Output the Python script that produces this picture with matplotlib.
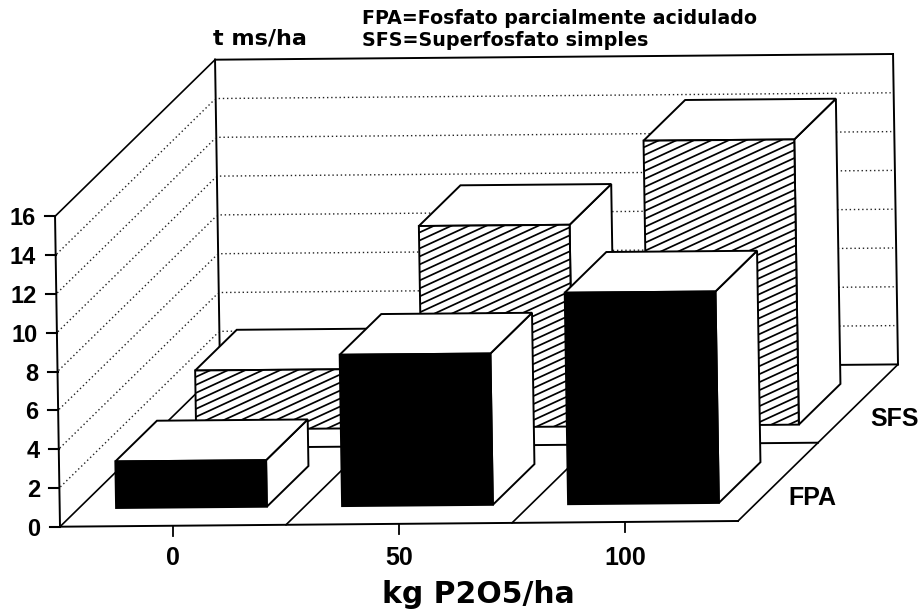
import numpy as np
import matplotlib
matplotlib.use("Agg")
import matplotlib.pyplot as plt
from matplotlib.patches import Polygon
from matplotlib.collections import LineCollection

# ---- data ----
doses = ["0", "50", "100"]
rows = ["FPA", "SFS"]
fpa_values = [2.4, 7.8, 10.9]
sfs_values = [3.05, 10.4, 14.7]
z_ticks = [0, 2, 4, 6, 8, 10, 12, 14, 16]
title_lines = ["FPA=Fosfato parcialmente acidulado", "SFS=Superfosfato simples"]
y_title = "t ms/ha"
x_title = "kg P2O5/ha"

# ---- oblique projection (dose slot, row slot, value) -> figure pixels ----
ORIGIN = np.array([60.0, 526.7])
EX = np.array([226.0, -1.9])
EY = np.array([80.0, -78.3])
EZ = np.array([-0.31, -19.4])
ZMAX = 16
BAR_W, BAR_D = 0.667, 0.52
X0, Y0 = 0.165, 0.235


def P(x, y, z=0.0):
    return ORIGIN + x * EX + y * EY + z * EZ


fig = plt.figure(figsize=(9.23, 6.11), dpi=100, facecolor="white")
ax = fig.add_axes([0, 0, 1, 1])
ax.set_xlim(0, 923)
ax.set_ylim(611, 0)
ax.axis("off")

LW = 1.4
SANS = "Liberation Sans"
WIDE = "DejaVu Sans"


def line(a, b, lw=LW, z=2, **kw):
    ax.plot([a[0], b[0]], [a[1], b[1]], color="black", lw=lw, zorder=z,
            solid_capstyle="projecting", **kw)


# walls and floor
nx, ny = len(doses), len(rows)
for v in z_ticks[1:-1]:
    a, b, c = P(0, 0, v), P(0, ny, v), P(nx, ny, v)
    for s, e in ((a + (1, -1), b - (1, -1)), (b + (3, 0), c - (3, 0))):
        ax.plot([s[0], e[0]], [s[1], e[1]], color="#222222", lw=1.0,
                ls=(0, (1, 2)), zorder=1)
line(P(0, 0), P(0, 0, ZMAX))
line(P(0, 0, ZMAX), P(0, ny, ZMAX), lw=1.2)
line(P(0, ny, ZMAX), P(nx, ny, ZMAX))
line(P(nx, ny, ZMAX), P(nx, ny))
line(P(0, ny), P(0, ny, ZMAX))
line(P(0, 0), P(nx, 0))
line(P(0, 0), P(0, ny), lw=1.2)
line(P(nx, 0), P(nx, ny), lw=1.2)
line(P(0, ny), P(nx, ny))
line(P(0, 1), P(nx, 1))
for i in range(1, nx):
    line(P(i, 0), P(i, ny), lw=1.2)


def hatch(poly, z):
    xs, ys = poly[:, 0], poly[:, 1]
    slope, step = 0.46, 8.0
    span = xs.max() - xs.min()
    offs = np.arange(ys.min(), ys.max() + slope * span + step, step)
    segs = [[(xs.min(), o), (xs.max(), o - slope * span)] for o in offs]
    lc = LineCollection(segs, colors="black", linewidths=1.25, zorder=z)
    ax.add_collection(lc)
    lc.set_clip_path(Polygon(poly, transform=ax.transData))


def bar(i, row, value, z, solid):
    x0, x1 = i + X0, i + X0 + BAR_W
    y0, y1 = row + Y0, row + Y0 + BAR_D
    front = np.array([P(x0, y0), P(x1, y0), P(x1, y0, value), P(x0, y0, value)])
    side = np.array([P(x1, y0), P(x1, y1), P(x1, y1, value), P(x1, y0, value)])
    top = np.array([P(x0, y0, value), P(x1, y0, value), P(x1, y1, value), P(x0, y1, value)])
    for poly in (side, top):
        ax.add_patch(Polygon(poly, closed=True, fc="white", ec="black", lw=LW, zorder=z))
    ax.add_patch(Polygon(front, closed=True, fc="black" if solid else "white",
                         ec="black", lw=LW, zorder=z))
    if not solid:
        hatch(front, z + 0.1)


for i, v in enumerate(sfs_values):
    bar(i, 1, v, 3 + i, False)
for i, v in enumerate(fpa_values):
    bar(i, 0, v, 7 + i, True)

# value axis
for v in z_ticks:
    p = P(0, 0, v)
    line(p, p + (-10, 0), lw=1.5)
    ax.text(p[0] - 19.5, p[1], str(v), ha="right", va="center_baseline",
            fontsize=17, fontweight="bold", family=SANS)

# dose axis
for i, d in enumerate(doses):
    p = P(i + 0.5, 0)
    line(p, p + (0, 10), lw=1.3)
    ax.text(p[0], 565, d, ha="center", va="baseline", fontsize=18,
            fontweight="bold", family=SANS)

ax.text(478, 603, x_title, ha="center", va="baseline", fontsize=21.5,
        fontweight="bold", family=WIDE)
ax.text(788, 505, rows[0], ha="left", va="baseline", fontsize=18, fontweight="bold", family=SANS)
ax.text(870, 426, rows[1], ha="left", va="baseline", fontsize=18, fontweight="bold", family=SANS)
ax.text(213, 45, y_title, ha="left", va="baseline", fontsize=16, fontweight="bold", family=WIDE)
ax.text(362, 24, title_lines[0], ha="left", va="baseline", fontsize=13.7, fontweight="bold", family=WIDE)
ax.text(362, 46, title_lines[1], ha="left", va="baseline", fontsize=13.8, fontweight="bold", family=WIDE)

fig.savefig("out.png", dpi=100)
